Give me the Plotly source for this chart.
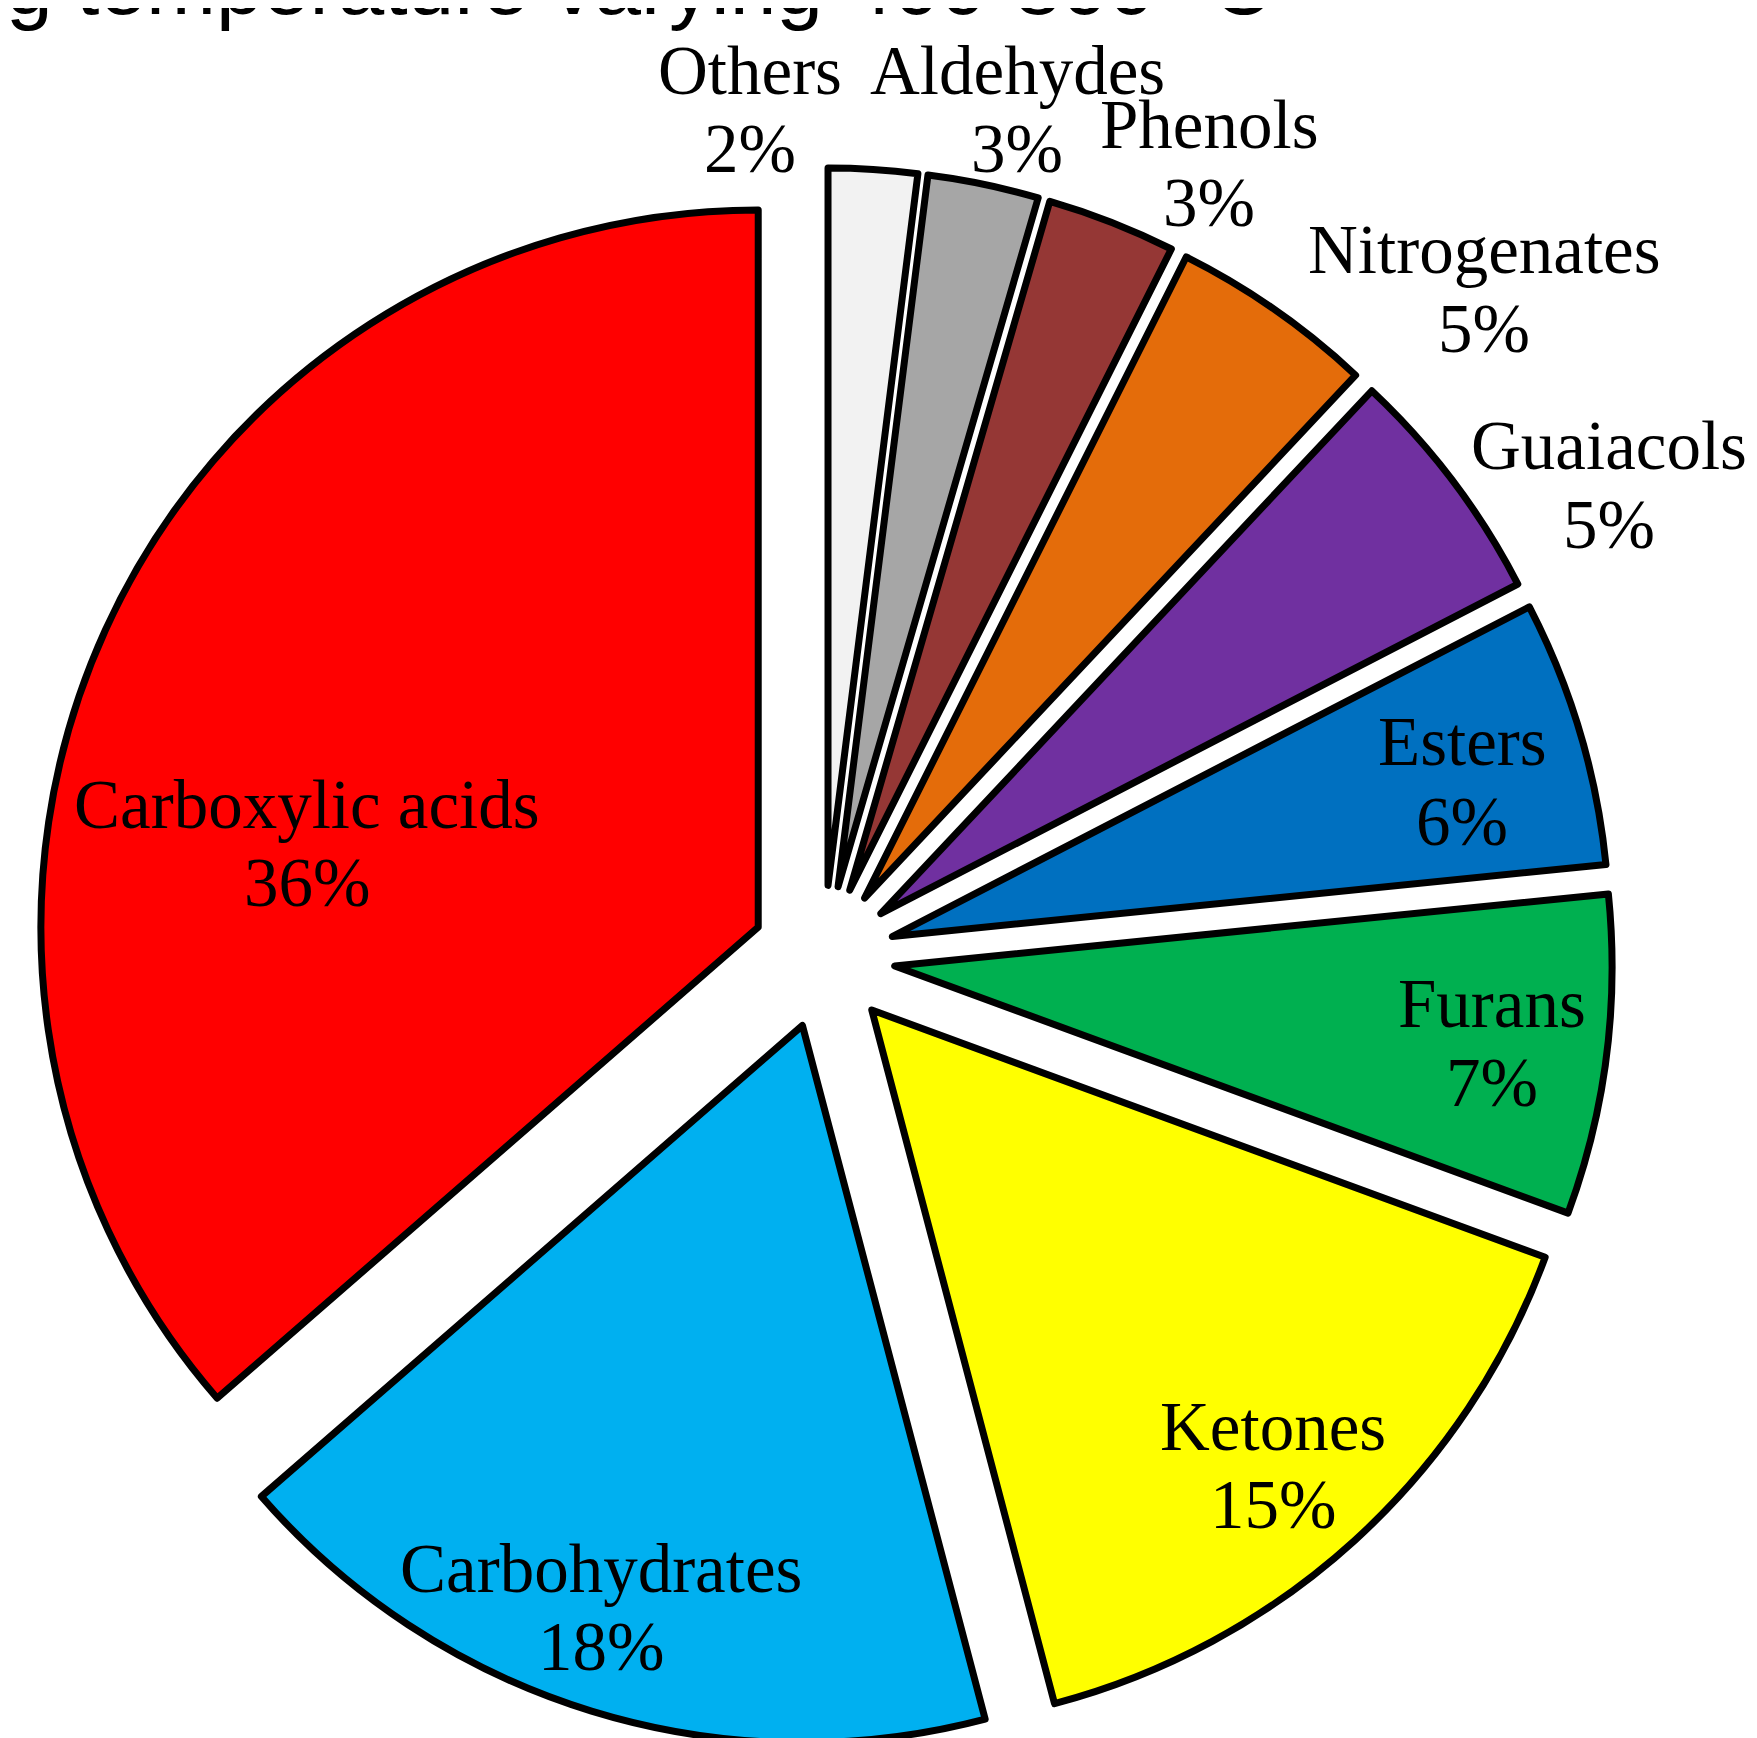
import plotly.graph_objects as go

W, H = 1757, 1738

# Product distribution (area %), clockwise from 12 o'clock
labels = ["Others", "Aldehydes", "Phenols", "Nitrogenates", "Guaiacols",
          "Esters", "Furans", "Ketones", "Carbohydrates", "Carboxylic acids"]
# slice sizes
values = [2.0, 2.5, 2.9, 4.6, 5.4, 6.0, 7.2, 15.3, 17.7, 36.4]
# percentages as printed on the chart
pct_text = [2, 3, 3, 5, 5, 6, 7, 15, 18, 36]
colors = ["#F2F2F2", "#A6A6A6", "#953735", "#E46C0A", "#7030A0",
          "#0070C0", "#00B050", "#FFFF00", "#00B0F0", "#FF0000"]

# label placement (pixels from top-left): centre x, name line y, percent line y
label_x = [742, 1009, 1201, 1476, 1601, 1454, 1484, 1265, 593, 299]
name_y = [63, 63, 117, 242, 438, 734, 996, 1419, 1561, 797]
pct_y = [141, 141, 195, 321, 517, 814, 1075, 1497, 1639, 875]

title_text = "g temperature varying 400-800 °C"

fig = go.Figure()
fig.add_trace(
    go.Pie(
        labels=labels,
        values=values,
        sort=False,
        direction="clockwise",
        rotation=0,
        pull=0.1,
        marker=dict(colors=colors, line=dict(color="black", width=7)),
        textinfo="none",
        showlegend=False,
        domain=dict(x=[0.0088, 0.9195], y=[0.0, 0.908]),
        hoverinfo="label+percent",
    )
)

label_font = dict(family="Liberation Serif", size=69, color="black")
for lab, pct, x, y1, y2 in zip(labels, pct_text, label_x, name_y, pct_y):
    for txt, y in ((lab, y1), (f"{pct}%", y2)):
        fig.add_annotation(
            text=txt,
            xref="paper", yref="paper",
            x=x / W, y=1 - y / H,
            xanchor="center", yanchor="middle",
            showarrow=False,
            font=label_font,
        )

# title of the original figure, cut off by the top edge
fig.add_annotation(
    text=title_text,
    xref="paper", yref="paper",
    x=-0.002, y=0.985,
    xanchor="left", yanchor="bottom",
    showarrow=False,
    font=dict(family="Liberation Sans", size=84, color="black"),
)

fig.update_layout(
    width=W,
    height=H,
    margin=dict(l=0, r=0, t=0, b=0, autoexpand=False),
    paper_bgcolor="white",
    plot_bgcolor="white",
)

fig.write_html("out.html")
